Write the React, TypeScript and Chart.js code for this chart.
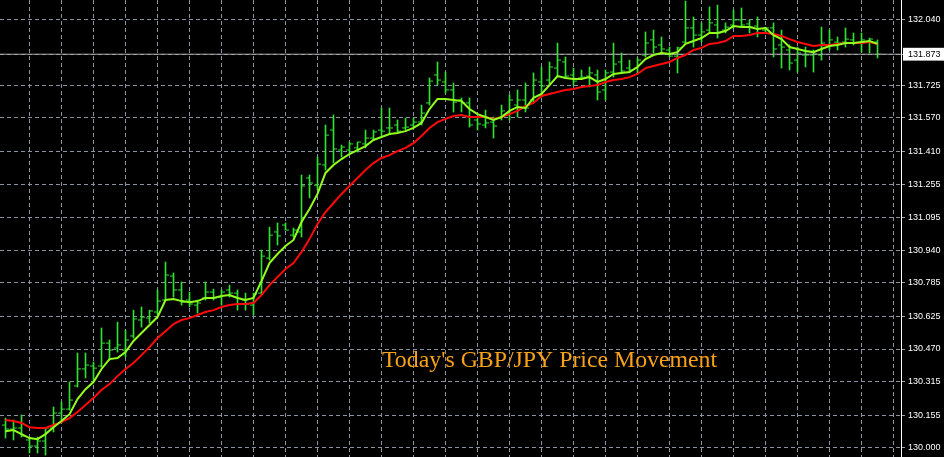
import React, { useEffect, useRef } from 'react';
import { Chart, registerables } from 'chart.js';

Chart.register(...registerables);

// ---- data (GBP/JPY bars, one per period) ----
const opens = [
  130.108,130.089,130.094,130.037,130.008,130.032,130.094,130.165,130.184,130.294,
  130.375,130.389,130.389,130.498,130.475,130.465,130.532,130.608,130.617,130.646,
  130.703,130.817,130.751,130.703,130.679,130.713,130.741,130.717,130.751,130.736,
  130.703,130.679,130.736,130.903,131.027,131.060,131.012,131.027,131.284,131.250,
  131.346,131.512,131.417,131.417,131.427,131.446,131.474,131.512,131.522,131.536,
  131.522,131.536,131.550,131.641,131.774,131.741,131.703,131.655,131.641,131.560,
  131.536,131.550,131.569,131.593,131.631,131.655,131.655,131.741,131.750,131.807,
  131.836,131.774,131.760,131.769,131.774,131.703,131.788,131.836,131.807,131.807,
  131.869,131.941,131.917,131.893,131.864,131.931,131.998,131.964,131.988,132.012,
  131.988,132.012,132.036,132.017,132.007,131.988,131.998,131.917,131.893,131.845,
  131.869,131.869,131.869,131.917,131.931,131.931,131.941,131.926,131.931,131.931,
];

const highs = [
  130.141,130.132,130.156,130.046,130.051,130.094,130.194,130.217,130.313,130.451,
  130.451,130.408,130.570,130.513,130.598,130.560,130.655,130.670,130.655,130.751,
  130.884,130.832,130.789,130.741,130.703,130.789,130.755,130.751,130.774,130.751,
  130.736,130.736,130.941,131.050,131.070,131.070,131.046,131.298,131.298,131.384,
  131.536,131.584,131.441,131.455,131.455,131.512,131.512,131.617,131.617,131.560,
  131.569,131.569,131.631,131.760,131.836,131.788,131.736,131.665,131.665,131.574,
  131.607,131.574,131.631,131.679,131.703,131.736,131.784,131.812,131.836,131.926,
  131.860,131.807,131.798,131.812,131.798,131.798,131.926,131.879,131.845,131.855,
  131.979,131.988,131.955,131.907,131.907,132.126,132.050,132.022,132.098,132.107,
  132.022,132.083,132.093,132.036,132.050,132.002,132.022,131.988,131.917,131.907,
  131.907,131.893,132.002,131.988,131.955,131.998,131.974,131.974,131.950,131.941,
];

const lows = [
  130.046,130.037,130.051,129.975,129.975,129.965,130.075,130.118,130.179,130.289,
  130.332,130.322,130.384,130.417,130.455,130.432,130.522,130.574,130.594,130.632,
  130.703,130.717,130.679,130.670,130.641,130.703,130.703,130.679,130.717,130.655,
  130.655,130.632,130.727,130.893,130.965,131.036,131.003,131.003,131.189,131.227,
  131.322,131.355,131.384,131.403,131.407,131.427,131.465,131.488,131.498,131.503,
  131.512,131.526,131.536,131.631,131.726,131.688,131.598,131.598,131.526,131.512,
  131.522,131.474,131.560,131.560,131.574,131.598,131.641,131.669,131.726,131.764,
  131.760,131.726,131.760,131.717,131.655,131.655,131.764,131.784,131.784,131.784,
  131.860,131.879,131.879,131.860,131.784,131.926,131.907,131.931,131.974,131.950,
  131.974,131.998,132.002,131.974,131.955,131.974,131.860,131.807,131.798,131.788,
  131.812,131.788,131.845,131.893,131.893,131.907,131.917,131.883,131.879,131.855,
];

const closes = [
  130.089,130.094,130.056,130.008,130.032,130.094,130.165,130.184,130.227,130.375,
  130.394,130.379,130.498,130.465,130.489,130.513,130.613,130.622,130.651,130.698,
  130.822,130.751,130.693,130.684,130.689,130.741,130.713,130.741,130.736,130.684,
  130.684,130.732,130.912,131.012,131.008,131.036,131.036,131.246,131.260,131.350,
  131.488,131.422,131.431,131.446,131.455,131.474,131.503,131.507,131.522,131.507,
  131.526,131.550,131.593,131.745,131.750,131.703,131.645,131.641,131.536,131.541,
  131.546,131.531,131.603,131.655,131.655,131.617,131.750,131.722,131.812,131.845,
  131.769,131.745,131.764,131.784,131.693,131.784,131.826,131.793,131.798,131.845,
  131.926,131.907,131.898,131.864,131.903,131.998,131.964,131.979,132.022,131.974,
  132.002,132.036,132.012,132.002,131.974,131.998,131.898,131.907,131.831,131.879,
  131.869,131.874,131.926,131.941,131.926,131.945,131.926,131.941,131.945,131.873,
];

const fastMA = [
  130.079,130.084,130.065,130.046,130.041,130.065,130.098,130.127,130.160,130.232,
  130.279,130.313,130.375,130.422,130.427,130.455,130.508,130.546,130.584,130.622,
  130.703,130.708,130.698,130.693,130.698,130.713,130.713,130.722,130.727,130.713,
  130.703,130.713,130.793,130.879,130.922,130.960,130.989,131.074,131.136,131.208,
  131.308,131.346,131.374,131.398,131.417,131.436,131.465,131.479,131.493,131.498,
  131.507,131.522,131.546,131.612,131.660,131.660,131.655,131.650,131.612,131.588,
  131.574,131.560,131.574,131.603,131.622,131.617,131.665,131.684,131.726,131.769,
  131.760,131.755,131.755,131.764,131.741,131.755,131.779,131.784,131.788,131.812,
  131.850,131.869,131.879,131.874,131.883,131.922,131.936,131.950,131.974,131.974,
  131.983,132.007,132.002,132.002,131.993,131.998,131.964,131.945,131.907,131.898,
  131.888,131.883,131.898,131.912,131.917,131.926,131.926,131.931,131.936,131.922,
];

const slowMA = [
  130.132,130.127,130.118,130.098,130.094,130.094,130.108,130.122,130.141,130.170,
  130.203,130.237,130.275,130.303,130.341,130.375,130.403,130.441,130.479,130.522,
  130.555,130.589,130.608,130.617,130.632,130.646,130.655,130.670,130.679,130.684,
  130.684,130.689,130.727,130.774,130.812,130.851,130.879,130.931,130.993,131.065,
  131.122,131.165,131.208,131.246,131.284,131.322,131.355,131.379,131.393,131.412,
  131.427,131.450,131.484,131.522,131.550,131.565,131.579,131.584,131.574,131.574,
  131.574,131.565,131.574,131.588,131.603,131.626,131.641,131.674,131.684,131.693,
  131.703,131.707,131.717,131.722,131.726,131.741,131.750,131.755,131.764,131.779,
  131.807,131.817,131.826,131.836,131.855,131.869,131.893,131.903,131.922,131.926,
  131.936,131.960,131.960,131.964,131.974,131.974,131.969,131.960,131.945,131.931,
  131.922,131.912,131.917,131.917,131.922,131.926,131.926,131.926,131.931,131.922,
];

const yTickLabels = [
  '130.000', '130.155', '130.315', '130.470', '130.625', '130.785', '130.940',
  '131.095', '131.255', '131.410', '131.570', '131.725', '131.873', '132.040',
];

const currentPrice = 131.873;
const caption = "Today's GBP/JPY Price Movement";

// ---- view / style ----
const Y_MIN = 129.956;
const Y_MAX = 132.131;
const X_MIN = -0.6875;
const X_MAX = 111.9375;
const GRID = '#8a92a4';
const BAR_GREEN = '#2fe02f';
const FAST_GREEN = '#93ff1f';
const SLOW_RED = '#ff0a0a';

export default function App() {
  const ref = useRef<HTMLCanvasElement | null>(null);

  useEffect(() => {
    document.body.style.margin = '0';
    document.body.style.background = '#000';
    const canvas = ref.current;
    if (!canvas) return;

    const bgPlugin = {
      id: 'bg',
      beforeDraw(chart: any) {
        const { ctx, width, height } = chart;
        ctx.save();
        ctx.fillStyle = '#000';
        ctx.fillRect(0, 0, width, height);
        ctx.restore();
      },
    };

    const captionPlugin = {
      id: 'caption',
      afterDatasetsDraw(chart: any) {
        const { ctx } = chart;
        ctx.save();
        ctx.font = "23.8px 'Liberation Serif', 'Times New Roman', serif";
        ctx.fillStyle = '#f7a21b';
        ctx.textBaseline = 'alphabetic';
        ctx.textAlign = 'left';
        ctx.fillText(caption, 382, 367);
        ctx.restore();
      },
    };

    const idx = opens.map((_, i) => i);

    const chart = new Chart(canvas, {
      type: 'bar',
      data: {
        datasets: [
          {
            type: 'line',
            label: 'Fast MA',
            data: idx.map((i) => ({ x: i, y: fastMA[i] })),
            borderColor: FAST_GREEN,
            borderWidth: 2,
            pointRadius: 0,
            tension: 0,
          } as any,
          {
            type: 'line',
            label: 'Slow MA',
            data: idx.map((i) => ({ x: i, y: slowMA[i] })),
            borderColor: SLOW_RED,
            borderWidth: 2,
            pointRadius: 0,
            tension: 0,
          } as any,
          {
            type: 'line',
            label: 'Bid',
            data: [
              { x: X_MIN, y: currentPrice },
              { x: X_MAX, y: currentPrice },
            ],
            borderColor: '#a8a8a8',
            borderWidth: 1,
            pointRadius: 0,
          } as any,
          {
            type: 'scatter',
            label: 'Open',
            data: idx.map((i) => ({ x: i - 0.25, y: opens[i] })),
            pointStyle: 'line',
            pointRadius: 1.5,
            pointHoverRadius: 1.5,
            borderColor: BAR_GREEN,
            borderWidth: 1,
          } as any,
          {
            type: 'scatter',
            label: 'Close',
            data: idx.map((i) => ({ x: i + 0.25, y: closes[i] })),
            pointStyle: 'line',
            pointRadius: 1.5,
            pointHoverRadius: 1.5,
            borderColor: BAR_GREEN,
            borderWidth: 1,
          } as any,
          {
            type: 'bar',
            label: 'Range',
            data: idx.map((i) => ({ x: i, y: [lows[i], highs[i]] })),
            backgroundColor: BAR_GREEN,
            borderWidth: 0,
            barThickness: 1,
          } as any,
        ],
      },
      options: {
        animation: false,
        responsive: false,
        devicePixelRatio: 1,
        events: [],
        layout: { padding: 0, autoPadding: false },
        plugins: {
          legend: { display: false },
          tooltip: { enabled: false },
        },
        scales: {
          x: {
            type: 'linear',
            min: X_MIN,
            max: X_MAX,
            offset: false,
            afterBuildTicks: (s: any) => {
              const t: any[] = [];
              for (let v = 1; v <= X_MAX; v += 4) t.push({ value: v });
              s.ticks = t;
            },
            afterFit: (s: any) => {
              s.height = 0;
              s.paddingLeft = 0;
              s.paddingRight = 0;
              s.paddingTop = 0;
              s.paddingBottom = 0;
            },
            ticks: { display: false },
            grid: { color: GRID, lineWidth: 1, drawTicks: false },
            border: { display: false, dash: [4, 3] },
          },
          y: {
            type: 'linear',
            position: 'right',
            min: Y_MIN,
            max: Y_MAX,
            afterBuildTicks: (s: any) => {
              s.ticks = yTickLabels.map((l) => ({ value: parseFloat(l) }));
            },
            afterFit: (s: any) => {
              s.width = 43;
              s.paddingTop = 0;
              s.paddingBottom = 0;
              s.paddingLeft = 0;
              s.paddingRight = 0;
            },
            grid: {
              color: GRID,
              lineWidth: 1,
              drawTicks: true,
              tickLength: 4,
              tickColor: '#9aa0ae',
              tickBorderDash: [],
            },
            border: { display: true, color: '#ffffff', width: 1, dash: [4, 3] },
            ticks: {
              autoSkip: false,
              padding: 3,
              crossAlign: 'near',
              font: { family: "'Liberation Sans', Arial, sans-serif", size: 9 },
              color: (c: any) => (c.tick && c.tick.value === currentPrice ? '#000' : '#fff'),
              showLabelBackdrop: (c: any) => !!(c.tick && c.tick.value === currentPrice),
              backdropColor: '#ffffff',
              backdropPadding: { left: 5, right: 5, top: 1, bottom: 1 },
              callback: (_v: any, i: number) => yTickLabels[i],
            },
          },
        },
      } as any,
      plugins: [bgPlugin, captionPlugin],
    });

    return () => {
      chart.destroy();
    };
  }, []);

  return (
    <div style={{ position: 'fixed', left: 0, top: 0, width: 944, height: 457, background: '#000' }}>
      <canvas ref={ref} width={944} height={457} style={{ display: 'block', width: 944, height: 457 }} />
    </div>
  );
}
